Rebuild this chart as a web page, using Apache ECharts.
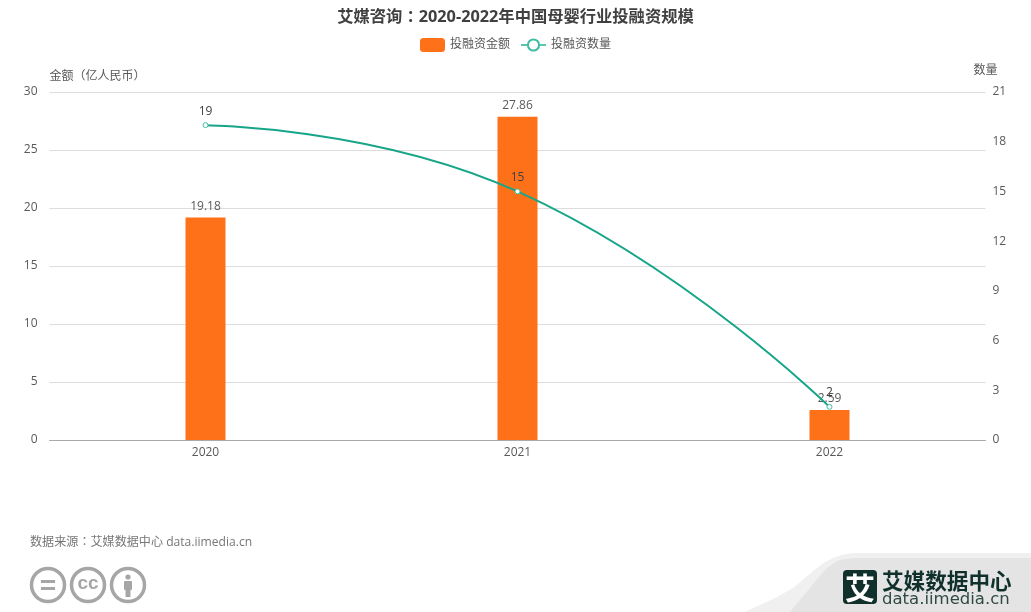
<!DOCTYPE html>
<html><head><meta charset="utf-8">
<style>html,body{margin:0;padding:0;background:#fff}#c{width:1031px;height:612px}</style>
<script src="https://cdn.jsdelivr.net/npm/echarts@6/dist/echarts.min.js"></script>
</head><body><div id="c"></div>
<script>
const categories = ['2020','2021','2022'];
const amounts = [19.18,27.86,2.59];
const counts = [19,15,2];
const titleText = '艾媒咨询：2020-2022年中国母婴行业投融资规模';
const sourceText = '数据来源：艾媒数据中心 data.iimedia.cn';
const FF = '"Open Sans","Noto Sans CJK SC",sans-serif';
const FT = '"Open Sans","Noto Sans CJK TC",sans-serif';
const FC = '"Noto Sans CJK SC",sans-serif';
const chart = echarts.init(document.getElementById('c'), null, {renderer:'canvas'});
chart.setOption({
  animation:false,
  textStyle:{fontFamily:FF},
  title:{text:titleText,left:'center',top:4,textStyle:{fontSize:16.3,fontWeight:'bold',color:'#404040',fontFamily:FT}},
  legend:{top:33,left:'center',itemWidth:25,itemHeight:14,itemGap:10,textStyle:{fontSize:12,color:'#595959',fontFamily:FF},
    data:[{name:'投融资金额'},{name:'投融资数量',lineStyle:{color:'#5cc5ae'},itemStyle:{borderColor:'#3dbda3'}}]},
  grid:{left:49.5,right:45.5,top:92,bottom:172},
  xAxis:{type:'category',data:categories,axisLine:{lineStyle:{color:'#aaaaaa'}},axisTick:{alignWithLabel:true,length:5,lineStyle:{color:'#aaaaaa'}},
    axisLabel:{color:'#595959',fontSize:12,margin:7}},
  yAxis:[
    {type:'value',min:0,max:30,interval:5,name:'金额（亿人民币）',nameLocation:'end',nameGap:9,
     nameTextStyle:{color:'#595959',fontSize:12,align:'left',fontFamily:FT},
     axisLine:{show:false},axisTick:{show:false},axisLabel:{color:'#595959',fontSize:12,margin:12,padding:[0,0,3,0]},
     splitLine:{lineStyle:{color:'#dddddd'}}},
    {type:'value',min:0,max:21,interval:3,name:'数量',nameLocation:'end',nameGap:15,
     nameTextStyle:{color:'#595959',fontSize:12,align:'right',padding:[0,-12,0,0]},
     axisLine:{show:false},axisTick:{show:false},axisLabel:{color:'#595959',fontSize:12,margin:7,padding:[0,0,3,0]},
     splitLine:{show:false}}
  ],
  series:[
    {name:'投融资金额',type:'bar',data:amounts,barWidth:40,itemStyle:{color:'#ff7119'},
     label:{show:true,position:'top',color:'#595959',fontSize:12,distance:5}},
    {name:'投融资数量',type:'line',yAxisIndex:1,data:counts,smooth:true,symbol:'circle',symbolSize:5,showSymbol:true,
     lineStyle:{color:'#17a589',width:2},
     itemStyle:{color:'#ffffff',borderColor:'#3dbda3',borderWidth:1},
     label:{show:true,position:'top',color:'#404040',fontSize:12,distance:5}}
  ],
  graphic:[
    {type:'text',x:30,y:536,style:{text:sourceText,fill:'#777777',fontSize:12.1,fontFamily:FT}},
    {type:'circle',shape:{cx:48,cy:585,r:16.5},style:{fill:'#fff',stroke:'#a6a6a6',lineWidth:3.5}},
    {type:'rect',shape:{x:41,y:580,width:14,height:3},style:{fill:'#a6a6a6'}},
    {type:'rect',shape:{x:41,y:587,width:14,height:3},style:{fill:'#a6a6a6'}},
    {type:'circle',shape:{cx:88,cy:585,r:16.5},style:{fill:'#fff',stroke:'#a6a6a6',lineWidth:3.5}},
    {type:'text',x:88,y:584,style:{text:'cc',fill:'#a6a6a6',fontSize:19,fontWeight:'bold',fontFamily:'"Liberation Sans"',align:'center',verticalAlign:'middle'}},
    {type:'circle',shape:{cx:128,cy:585,r:16.5},style:{fill:'#fff',stroke:'#a6a6a6',lineWidth:3.5}},
    {type:'circle',shape:{cx:128,cy:577,r:2.6},style:{fill:'#a6a6a6'}},
    {type:'rect',shape:{x:124,y:581,width:8,height:9,r:1},style:{fill:'#a6a6a6'}},
    {type:'rect',shape:{x:125.5,y:588,width:5,height:9},style:{fill:'#a6a6a6'}},
    {type:'polygon',shape:{points:[[745,612],[760,605],[777,597],[793,588],[805,578],[817,568],[825,562],[833,558],[843,554.5],[853,553],[1031,553],[1031,612]]},style:{fill:'#f0f0f0'}},
    {type:'polygon',shape:{points:[[790,612],[800,600],[810,588],[819,577],[827,568],[834,563],[840,560],[848,558.5],[857,558],[1031,558],[1031,612]]},style:{fill:'#e4e4e4'}},
    {type:'rect',shape:{x:843,y:570,width:34,height:34,r:4},style:{fill:'#10302b'}},
    {type:'text',x:860,y:587.5,style:{text:'艾',fill:'#ffffff',fontSize:30,fontWeight:'bold',fontFamily:FC,align:'center',verticalAlign:'middle'}},
    {type:'text',x:882,y:581,style:{text:'艾媒数据中心',fill:'#10302b',fontSize:21.6,fontWeight:'bold',fontFamily:FC,verticalAlign:'middle'}},
    {type:'text',x:882,y:591,style:{text:'data.iimedia.cn',fill:'#2f4a45',fontSize:16.5,fontFamily:'"DejaVu Sans"'}}
  ]
});
</script></body></html>
